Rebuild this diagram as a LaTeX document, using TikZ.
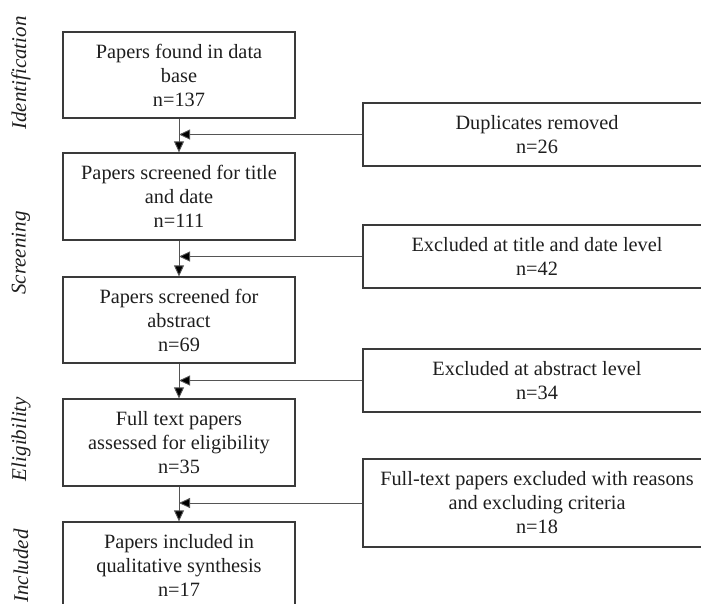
\documentclass[tikz,border=0pt]{standalone}
\usepackage{fontspec}
\setmainfont{Liberation Serif}
\usetikzlibrary{arrows.meta}
\definecolor{boxline}{HTML}{3A3A3A}
\definecolor{flowline}{HTML}{555555}
\definecolor{inkc}{HTML}{1E1E1E}
\tikzset{
  stagebox/.style={draw=boxline, line width=1.3pt, rectangle, align=center,
    text=inkc, inner sep=0pt, minimum width=232pt,
    font=\fontsize{20.3}{24}\selectfont},
  sidebox/.style={draw=boxline, line width=1.3pt, rectangle, align=center,
    text=inkc, inner sep=0pt, minimum width=348pt,
    font=\fontsize{20.3}{24}\selectfont},
  phase/.style={rotate=90, text=inkc, font=\fontsize{21}{24}\selectfont\itshape},
  flow/.style={draw=flowline, line width=0.9pt,
    -{Triangle[length=11pt,width=10pt,fill=black]}}
}
\begin{document}
\begin{tikzpicture}[x=1pt,y=-1pt]
\useasboundingbox (0,0) rectangle (701,603);
\clip (0,0) rectangle (701,603);

% phase labels
\node[phase] (p1) at (21,73)  {Identification};
\node[phase] (p2) at (21,253) {Screening};
\node[phase] (p3) at (21,439) {Eligibility};
\node[phase] (p4) at (21,566) {Included};

% main column
\node[stagebox, minimum height=86pt] (b1) at (179,75)
  {Papers found in data\\base\\n=137};
\node[stagebox, minimum height=87pt] (b2) at (179,196.5)
  {Papers screened for title\\and date\\n=111};
\node[stagebox, minimum height=86pt] (b3) at (179,320)
  {Papers screened for\\abstract\\n=69};
\node[stagebox, minimum height=87pt] (b4) at (179,442.5)
  {Full text papers\\assessed for eligibility\\n=35};
\node[stagebox, minimum height=87pt] (b5) at (179,565.5)
  {Papers included in\\qualitative synthesis\\n=17};

% exclusion column
\node[sidebox, minimum height=63pt] (r1) at (537,134.5)
  {Duplicates removed\\n=26};
\node[sidebox, minimum height=63pt] (r2) at (537,256.5)
  {Excluded at title and date level\\n=42};
\node[sidebox, minimum height=63pt] (r3) at (537,380.5)
  {Excluded at abstract level\\n=34};
\node[sidebox, minimum height=88pt] (r4) at (537,503)
  {Full-text papers excluded with reasons\\and excluding criteria\\n=18};

% flow connectors
\draw[flow] (b1.south) -- (b2.north);
\draw[flow] (b2.south) -- (b3.north);
\draw[flow] (b3.south) -- (b4.north);
\draw[flow] (b4.south) -- (b5.north);

\draw[flow] (r1.west) -- (r1.west -| b1.south);
\draw[flow] (r2.west) -- (r2.west -| b2.south);
\draw[flow] (r3.west) -- (r3.west -| b3.south);
\draw[flow] (r4.west) -- (r4.west -| b4.south);
\end{tikzpicture}
\end{document}
